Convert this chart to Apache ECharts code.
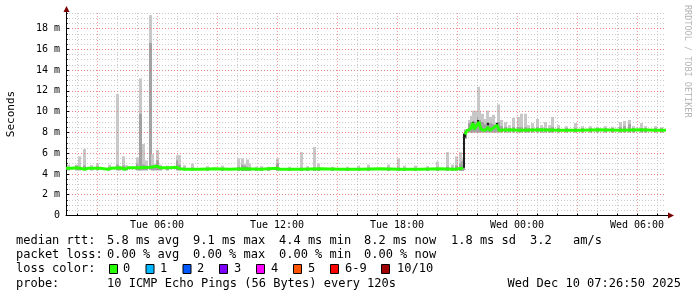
<!DOCTYPE html>
<html><head><meta charset="utf-8">
<script src="https://cdn.jsdelivr.net/npm/echarts@6/dist/echarts.min.js"></script>
<style>html,body{margin:0;padding:0;background:#fff}#c{width:697px;height:297px}</style>
</head><body><div id="c"></div>
<script>
// ---- axis / labels ----
const tickLabels = ["Tue 06:00", "Tue 12:00", "Tue 18:00", "Wed 00:00", "Wed 06:00"];
const yMax = 19.5;

// ---- median RTT line (milliseconds, shown as "m") ----
const medianTime = ["Tue 01:27","Tue 01:45","Tue 01:57","Tue 02:09","Tue 02:24","Tue 02:33","Tue 03:09","Tue 03:33","Tue 03:42","Tue 04:09","Tue 04:24","Tue 04:33","Tue 05:09","Tue 05:39","Tue 06:00","Tue 06:09","Tue 06:39","Tue 07:00","Tue 07:09","Tue 07:24","Tue 08:09","Tue 08:54","Tue 09:39","Tue 10:24","Tue 11:09","Tue 12:00","Tue 12:09","Tue 13:09","Tue 14:09","Tue 15:09","Tue 16:09","Tue 17:09","Tue 18:09","Tue 19:09","Tue 20:09","Tue 20:54","Tue 21:15","Tue 21:18","Tue 21:21","Tue 21:24","Tue 21:30","Tue 21:39","Tue 21:48","Tue 21:51","Tue 21:57","Tue 22:06","Tue 22:12","Tue 22:24","Tue 22:33","Tue 22:39","Tue 23:00","Tue 23:06","Tue 23:39","Wed 00:09","Wed 01:09","Wed 02:09","Wed 03:09","Wed 04:09","Wed 05:09","Wed 06:09","Wed 06:54","Wed 07:27"];
const medianValue = [4.55,4.55,4.6,4.55,4.45,4.55,4.55,4.45,4.55,4.6,4.45,4.6,4.6,4.65,4.75,4.6,4.6,4.65,4.5,4.45,4.45,4.5,4.45,4.5,4.45,4.55,4.45,4.45,4.5,4.45,4.45,4.5,4.45,4.45,4.5,4.45,4.55,4.6,'-',7.8,8.2,8.3,8.9,8.3,8.2,9.0,8.3,8.2,8.5,8.2,8.7,8.2,8.25,8.2,8.25,8.2,8.2,8.25,8.2,8.25,8.2,8.2];

// ---- smoke (ping spread) ----
const smokeTime = ["Tue 01:33","Tue 01:57","Tue 02:06","Tue 02:21","Tue 02:42","Tue 03:00","Tue 03:36","Tue 04:00","Tue 04:06","Tue 04:18","Tue 04:27","Tue 05:00","Tue 05:06","Tue 05:09","Tue 05:18","Tue 05:27","Tue 05:39","Tue 05:45","Tue 05:51","Tue 06:00","Tue 06:09","Tue 06:30","Tue 07:00","Tue 07:06","Tue 07:21","Tue 07:45","Tue 08:30","Tue 09:15","Tue 10:03","Tue 10:15","Tue 10:21","Tue 10:30","Tue 10:36","Tue 10:57","Tue 11:12","Tue 11:33","Tue 12:00","Tue 12:36","Tue 13:12","Tue 13:30","Tue 13:51","Tue 14:03","Tue 14:45","Tue 15:30","Tue 16:03","Tue 16:33","Tue 17:33","Tue 18:03","Tue 18:24","Tue 18:54","Tue 19:30","Tue 20:00","Tue 20:30","Tue 20:45","Tue 21:00","Tue 21:09","Tue 21:15","Tue 21:18","Tue 21:24","Tue 21:36","Tue 21:42","Tue 21:48","Tue 21:57","Tue 22:03","Tue 22:09","Tue 22:18","Tue 22:24","Tue 22:30","Tue 22:39","Tue 22:48","Tue 22:54","Tue 23:03","Tue 23:12","Tue 23:27","Tue 23:36","Tue 23:48","Wed 00:03","Wed 00:12","Wed 00:24","Wed 00:33","Wed 00:45","Wed 01:00","Wed 01:12","Wed 01:24","Wed 01:36","Wed 01:45","Wed 02:03","Wed 02:27","Wed 02:54","Wed 03:15","Wed 03:39","Wed 04:00","Wed 04:24","Wed 04:45","Wed 05:09","Wed 05:21","Wed 05:36","Wed 05:48","Wed 06:12","Wed 06:24","Wed 06:54","Wed 07:12"];
const smokeLow = [4.35,4.35,4.35,4.35,4.35,4.35,4.35,4.35,4.35,4.35,4.35,4.35,4.35,4.35,4.35,4.35,4.4,4.35,4.35,4.35,4.35,4.35,4.35,4.35,4.35,4.35,4.3,4.3,4.3,4.3,4.3,4.3,4.3,4.3,4.3,4.3,4.3,4.3,4.3,4.3,4.3,4.3,4.3,4.3,4.3,4.3,4.3,4.3,4.3,4.3,4.3,4.3,4.3,4.3,4.3,4.3,4.3,4.4,7.4,8.0,8.0,8.0,8.0,8.0,8.0,8.0,8.0,8.0,8.0,8.0,8.0,8.0,8.0,8.0,8.0,8.0,8.0,8.0,8.0,8.0,8.0,8.0,8.0,8.0,8.0,8.0,8.0,8.0,8.0,8.0,8.0,8.0,8.0,8.0,8.0,8.0,8.0,8.0,8.0,8.0,8.0,8.0];
const smokeHigh = [4.9,4.9,5.7,6.4,4.85,5.0,4.9,11.7,4.8,5.7,4.85,5.6,5.0,13.2,6.9,5.3,19.3,5.9,5.0,6.3,4.9,4.8,5.8,5.8,4.85,5.0,4.75,4.8,5.5,5.5,5.0,5.4,5.0,4.7,4.75,4.7,5.5,4.7,6.1,4.75,6.6,5.0,4.7,4.7,4.8,4.9,4.9,5.5,4.8,4.8,4.75,5.2,6.1,4.9,5.7,6.1,5.6,5.0,8.3,9.2,9.6,10.1,10.1,12.4,10.1,9.8,9.3,10.1,9.5,9.7,9.0,10.7,9.2,9.0,8.7,9.4,9.5,9.8,9.8,8.7,8.9,9.3,8.7,9.0,8.7,9.5,8.7,8.6,8.9,8.6,8.6,8.55,8.6,8.55,9.0,9.1,9.2,8.6,8.9,8.6,8.6,8.5];
const smokeDark = [4.6,4.8,4.7,4.8,4.6,4.7,4.6,4.9,4.6,4.8,4.6,5.0,4.8,9.8,4.9,4.8,16.6,4.8,4.8,5.3,4.7,4.6,5.3,4.9,4.6,4.6,4.5,4.5,4.7,4.9,4.8,4.7,4.6,4.5,4.5,4.5,5.0,4.5,4.6,4.5,4.6,4.6,4.5,4.5,4.5,4.6,4.6,4.6,4.5,4.5,4.5,4.6,4.7,4.6,4.8,5.0,5.2,4.9,8.2,8.9,9.0,9.1,9.0,9.5,9.2,9.0,8.8,9.0,8.9,8.8,8.6,9.0,8.6,8.5,8.4,8.5,8.5,8.5,8.5,8.4,8.4,8.5,8.4,8.4,8.4,8.5,8.4,8.4,8.4,8.4,8.4,8.4,8.4,8.4,8.5,8.6,8.8,8.4,8.4,8.4,8.4,8.4];

// ---- near-black core (dense pings) ----
const coreTime = ["Tue 06:00","Tue 21:21","Tue 21:24","Tue 21:48","Tue 22:03","Tue 22:33","Tue 23:00"];
const coreLow  = [4.6,4.6,7.5,8.8,8.8,8.7,8.7];
const coreHigh = [4.8,7.9,8.0,9.0,9.2,8.9,8.9];

// ---- legend texts ----
const rttStats  = ["5.8 ms avg", "9.1 ms max", "4.4 ms min", "8.2 ms now", "1.8 ms sd", "3.2", "am/s"];
const lossStats = ["0.00 % avg", "0.00 % max", "0.00 % min", "0.00 % now"];
const lossLabels = ["0", "1", "2", "3", "4", "5", "6-9", "10/10"];
const lossColors = ["#26ff00", "#00b8ff", "#0059ff", "#7e00ff", "#ff00ff", "#ff5500", "#ff0000", "#a10000"];
const probeText = "10 ICMP Echo Pings (56 Bytes) every 120s";
const stampText = "Wed Dec 10 07:26:50 2025";

// ---- x categories: 3-minute slots, Tue 01:27 .. Wed 07:27 ----
const slots = [];
for (let m = 87; m <= 1887; m += 3) {
  const mm = m % 1440;
  slots.push((m < 1440 ? "Tue " : "Wed ") + String(Math.floor(mm / 60)).padStart(2, "0") + ":" + String(mm % 60).padStart(2, "0"));
}
const minuteOf = n => { const p = n.slice(4).split(":"); return (+p[0]) * 60 + (+p[1]); };

const MONO = '"DejaVu Sans Mono", "Liberation Mono", monospace';

function rangeRender(fill, darkFill, w) {
  return function (params, api) {
    const x = api.value(0);
    const lo = api.coord([x, api.value(1)]);
    const hi = api.coord([x, api.value(2)]);
    const x0 = Math.round(lo[0] - w / 2);
    const children = [{ type: "rect", shape: { x: x0, y: hi[1], width: w, height: lo[1] - hi[1] }, style: { fill: fill } }];
    const d = api.value(3);
    if (darkFill && d !== undefined && !isNaN(d)) {
      const dk = api.coord([x, d]);
      children.push({ type: "rect", shape: { x: x0, y: dk[1], width: w, height: lo[1] - dk[1] }, style: { fill: darkFill } });
    }
    return { type: "group", children: children };
  };
}

// ---- legend graphics ----
const graphics = [];
const rowY = [240.5, 255, 269, 283.5];
const txt = (x, y, t, extra) => Object.assign({ type: "text", x: x, y: y, silent: true,
  style: Object.assign({ text: t, font: "12px " + MONO, fill: "#000", align: "left", verticalAlign: "middle" }, extra || {}) });
graphics.push(txt(16, rowY[0], "median rtt:"));
[107, 193, 279, 364, 451, 530, 573].forEach((x, i) => graphics.push(txt(x, rowY[0], rttStats[i])));
graphics.push(txt(16, rowY[1], "packet loss:"));
[107, 193, 279, 364].forEach((x, i) => graphics.push(txt(x, rowY[1], lossStats[i])));
graphics.push(txt(16, rowY[2], "loss color:"));
const boxX = [109, 145.5, 182.5, 219, 256, 293, 330, 381];
const labX = [123, 160, 197, 234, 271, 308, 345, 397];
lossLabels.forEach((l, i) => {
  graphics.push({ type: "rect", silent: true, shape: { x: boxX[i] + 0.5, y: 264.5, width: 8, height: 9 },
    style: { fill: lossColors[i], stroke: "#000", lineWidth: 1 } });
  graphics.push(txt(labX[i], rowY[2], l));
});
graphics.push(txt(16, rowY[3], "probe:"));
graphics.push(txt(107, rowY[3], probeText));
graphics.push(txt(681, rowY[3], stampText, { align: "right" }));
// axis title and watermark
graphics.push({ type: "text", x: 11, y: 114, rotation: Math.PI / 2, silent: true,
  style: { text: "Seconds", font: "11px " + MONO, fill: "#000", align: "center", verticalAlign: "middle" } });
graphics.push({ type: "text", x: 687, y: 5, rotation: -Math.PI / 2, silent: true,
  style: { text: "RRDTOOL / TOBI OETIKER", font: "8.5px " + MONO, fill: "#b4b4b4", align: "left", verticalAlign: "middle" } });
// axis arrow extensions
graphics.push({ type: "line", silent: true, shape: { x1: 666, y1: 215.5, x2: 670, y2: 215.5 }, style: { stroke: "#000", lineWidth: 1 } });
graphics.push({ type: "polygon", silent: true, shape: { points: [[668, 212.5], [674, 215.5], [668, 218.5]] }, style: { fill: "#7a0000" } });
graphics.push({ type: "line", silent: true, shape: { x1: 66.5, y1: 13, x2: 66.5, y2: 10 }, style: { stroke: "#000", lineWidth: 1 } });
graphics.push({ type: "polygon", silent: true, shape: { points: [[63.5, 12], [66.5, 6], [69.5, 12]] }, style: { fill: "#7a0000" } });

const chart = echarts.init(document.getElementById("c"), null, { renderer: "canvas" });
chart.setOption({
  animation: false,
  backgroundColor: "#fff",
  grid: { left: 66, top: 13, width: 600, height: 202.5, containLabel: false, outerBoundsMode: "none" },
  xAxis: [
    { type: "category", data: slots, boundaryGap: false, z: 3,
      axisLine: { show: true, lineStyle: { color: "#000", width: 1 } },
      axisTick: { show: true, inside: true, length: 2, interval: (i, v) => minuteOf(v) % 60 === 0, lineStyle: { color: "#000" } },
      axisLabel: { show: true, interval: (i, v) => tickLabels.indexOf(v) >= 0, fontSize: 10, fontFamily: MONO, color: "#000", margin: 5 },
      splitLine: { show: true, interval: (i, v) => minuteOf(v) % 180 === 0, lineStyle: { color: "rgba(255,80,80,0.6)", type: [1, 2], width: 1 } } },
    { type: "category", data: slots, boundaryGap: false, position: "bottom", z: 1,
      axisLine: { show: false }, axisTick: { show: false }, axisLabel: { show: false },
      splitLine: { show: true, interval: (i, v) => { const m = minuteOf(v); return m % 60 === 0 && m % 180 !== 0; }, lineStyle: { color: "rgba(160,160,160,0.55)", type: [1, 2], width: 1 } } }
  ],
  yAxis: [
    { type: "value", min: 0, max: yMax, interval: 2, z: 3,
      axisLine: { show: true, lineStyle: { color: "#000", width: 1 } },
      axisTick: { show: true, inside: true, length: 3, lineStyle: { color: "#000" } },
      axisLabel: { fontSize: 10, fontFamily: MONO, color: "#000", margin: 6, showMaxLabel: false,
        formatter: v => (v % 2 !== 0 ? "" : (v === 0 ? "0" : v + " m")) },
      splitLine: { show: true, showMaxLine: false, lineStyle: { color: "rgba(255,80,80,0.6)", type: [1, 2], width: 1 } } },
    { type: "value", min: 0, max: yMax, interval: 0.5, position: "left", z: 1,
      axisLine: { show: false }, axisLabel: { show: false },
      axisTick: { show: true, inside: true, length: 2, lineStyle: { color: "#444" } },
      splitLine: { show: true, lineStyle: { color: "rgba(160,160,160,0.55)", type: [1, 2], width: 1 } } }
  ],
  series: [
    { type: "custom", name: "smoke", xAxisIndex: 0, yAxisIndex: 0, z: 2,
      renderItem: rangeRender("#c8c8c8", "#a2a2a2", 3), encode: { x: 0, y: [1, 2, 3] },
      data: smokeTime.map((t, i) => [t, smokeLow[i], smokeHigh[i], smokeDark[i]]) },
    { type: "custom", name: "core", xAxisIndex: 0, yAxisIndex: 0, z: 3,
      renderItem: rangeRender("#1e1e1e", null, 2), encode: { x: 0, y: [1, 2] },
      data: coreTime.map((t, i) => [t, coreLow[i], coreHigh[i]]) },
    { type: "line", name: "median rtt", xAxisIndex: 0, yAxisIndex: 0, z: 4,
      showSymbol: false, symbol: "none", connectNulls: false,
      lineStyle: { color: "#26ff00", width: 3, cap: "butt" },
      data: medianTime.map((t, i) => [t, medianValue[i]]) }
  ],
  graphic: graphics
});
</script>
</body></html>
